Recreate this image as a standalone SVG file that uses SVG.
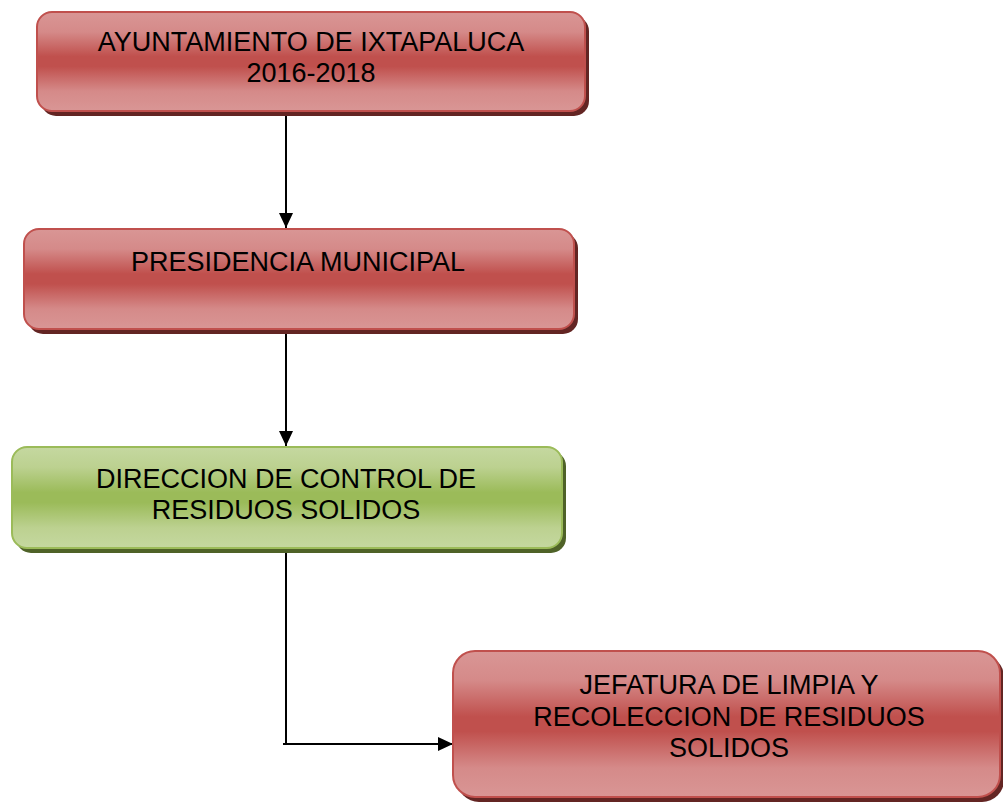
<svg xmlns="http://www.w3.org/2000/svg" width="1003" height="804" viewBox="0 0 1003 804">
<defs>
<linearGradient id="gr" x1="0" y1="0" x2="0" y2="1">
<stop offset="0" stop-color="#d99695"/>
<stop offset="0.2" stop-color="#d58a89"/>
<stop offset="0.45" stop-color="#c0504d"/>
<stop offset="0.55" stop-color="#c0504d"/>
<stop offset="0.8" stop-color="#d58a89"/>
<stop offset="1" stop-color="#d99695"/>
</linearGradient>
<linearGradient id="gg" x1="0" y1="0" x2="0" y2="1">
<stop offset="0" stop-color="#c5d8a0"/>
<stop offset="0.2" stop-color="#bcd190"/>
<stop offset="0.45" stop-color="#9bbb59"/>
<stop offset="0.55" stop-color="#9bbb59"/>
<stop offset="0.8" stop-color="#bcd190"/>
<stop offset="1" stop-color="#c5d8a0"/>
</linearGradient>
<marker id="ah" markerWidth="15" markerHeight="14" refX="15" refY="7" orient="auto" markerUnits="userSpaceOnUse">
<path d="M0,0 L15,7 L0,14 Z" fill="#000"/>
</marker>
</defs>
<style>
.sr{fill:#632523}
.sg{fill:#4f6228}
.br{fill:url(#gr);stroke:#c0504d;stroke-width:2}
.bg{fill:url(#gg);stroke:#9bbb59;stroke-width:2}
text{font-family:"Liberation Sans",Arial,sans-serif;font-size:27px;fill:#000;text-anchor:middle}
.c{stroke:#000;stroke-width:2;fill:none}
</style>
<g id="connectors">
<line class="c" x1="286" y1="112" x2="286" y2="228" marker-end="url(#ah)"/>
<line class="c" x1="286" y1="330" x2="286" y2="446" marker-end="url(#ah)"/>
<polyline class="c" points="286,549 286,744"/>
<line class="c" x1="283" y1="744" x2="453" y2="744" marker-end="url(#ah)"/>
</g>
<g id="n1">
<rect class="sr" x="41" y="16" width="548" height="100" rx="15"/>
<rect class="br" x="37" y="12" width="548" height="99" rx="15"/>
<text x="311" y="51">AYUNTAMIENTO DE IXTAPALUCA</text>
<text x="311" y="82">2016-2018</text>
</g>
<g id="n2">
<rect class="sr" x="28" y="233" width="550" height="101" rx="15"/>
<rect class="br" x="24" y="229" width="550" height="100" rx="15"/>
<text x="298" y="271">PRESIDENCIA MUNICIPAL</text>
</g>
<g id="n3">
<rect class="sg" x="16" y="451" width="550" height="102" rx="15"/>
<rect class="bg" x="12" y="447" width="550" height="101" rx="15"/>
<text x="286" y="488">DIRECCION DE CONTROL DE</text>
<text x="286" y="519">RESIDUOS SOLIDOS</text>
</g>
<g id="n4">
<rect class="sr" x="457" y="655" width="547" height="147" rx="22"/>
<rect class="br" x="453" y="651" width="547" height="146" rx="22"/>
<text x="729" y="694">JEFATURA DE LIMPIA Y</text>
<text x="729" y="726">RECOLECCION DE RESIDUOS</text>
<text x="729" y="757">SOLIDOS</text>
</g>
</svg>
